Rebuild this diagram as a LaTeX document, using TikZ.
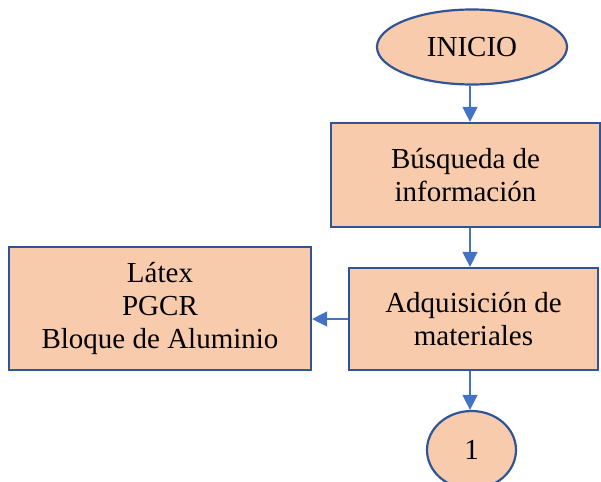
\documentclass[tikz,border=0pt]{standalone}
\usepackage{fontspec}
\setmainfont{Liberation Serif}
\usepackage{tikz}
\usetikzlibrary{shapes.geometric, arrows.meta, positioning, calc}
\definecolor{boxfill}{HTML}{F8CBAD}
\definecolor{boxline}{HTML}{2F5597}
\definecolor{arrowline}{HTML}{4472C4}

\begin{document}
\begin{tikzpicture}[x=1pt, y=-1pt,
  font=\fontsize{29}{33}\selectfont,
  proceso/.style={rectangle, draw=boxline, fill=boxfill, line width=2.2pt, align=center, inner sep=0pt},
  terminal/.style={ellipse, draw=boxline, fill=boxfill, line width=2.2pt, inner sep=0pt},
  flecha/.style={draw=arrowline, line width=1.3pt, -{Triangle[length=15pt, width=15pt]}}]
  \useasboundingbox (0,0) rectangle (601,481);

  % Nodes
  \node[terminal, minimum width=190pt, minimum height=75pt] (inicio) at (472,47) {INICIO};
  \node[proceso, minimum width=269pt, minimum height=104pt] (busqueda) at (465.5,175) {Búsqueda de\\información};
  \node[proceso, minimum width=249pt, minimum height=102pt] (adquisicion) at (473.5,319) {Adquisición de\\materiales};
  \node[proceso, minimum width=302pt, minimum height=123pt] (materiales) at (160,308.5) {Látex\\PGCR\\Bloque de Aluminio};
  \node[terminal, minimum width=89pt, minimum height=78pt] (conector) at (471.5,450) {1};

  % Arrows
  \draw[flecha] ($(inicio.south)+(-2,0)$) -- (busqueda.north -| 470,0);
  \draw[flecha] (busqueda.south -| 470,0) -- (adquisicion.north -| 470,0);
  \draw[flecha] (adquisicion.west) -- (materiales.east |- adquisicion.west);
  \draw[flecha] (adquisicion.south -| 470,0) -- (conector.north -| 470,0);
\end{tikzpicture}
\end{document}
